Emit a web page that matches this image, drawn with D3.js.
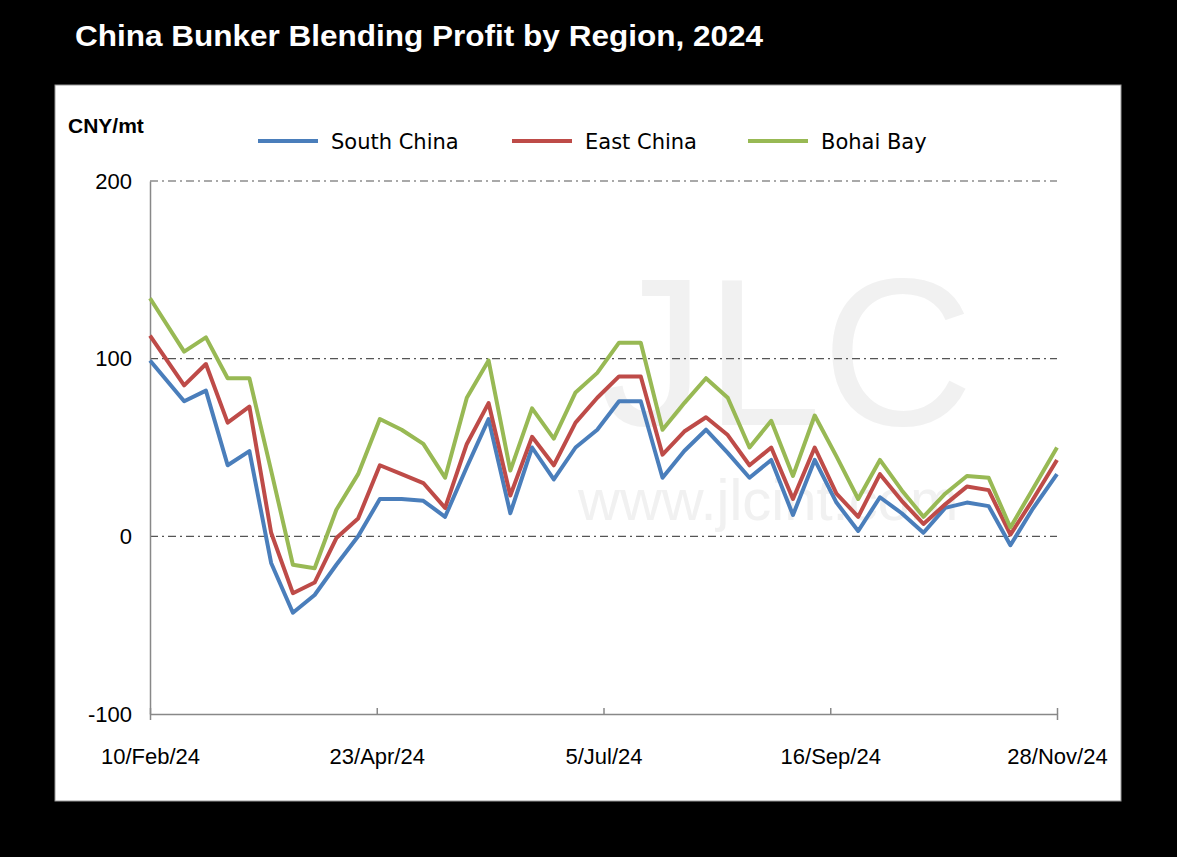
<!DOCTYPE html>
<html><head><meta charset="utf-8">
<script src="https://cdn.jsdelivr.net/npm/d3@7/dist/d3.min.js"></script>
<style>body{margin:0;background:#000;}</style></head>
<body><svg id="c" width="1177" height="857"></svg>
<script>
const dates = ["2024-02-10","2024-02-21","2024-02-28","2024-03-06","2024-03-13","2024-03-20","2024-03-27","2024-04-03","2024-04-10","2024-04-17","2024-04-24","2024-05-01","2024-05-08","2024-05-15","2024-05-22","2024-05-29","2024-06-05","2024-06-12","2024-06-19","2024-06-26","2024-07-03","2024-07-10","2024-07-17","2024-07-24","2024-07-31","2024-08-07","2024-08-14","2024-08-21","2024-08-28","2024-09-04","2024-09-11","2024-09-18","2024-09-25","2024-10-02","2024-10-09","2024-10-16","2024-10-23","2024-10-30","2024-11-06","2024-11-13","2024-11-20","2024-11-28"];
const southChina = [99,76,82,40,48,-15,-43,-33,-16,0,21,21,20,11,39,66,13,50,32,50,60,76,76,33,48,60,47,33,43,12,43,19,3,22,13,2,16,19,17,-5,15,35];
const eastChina = [113,85,97,64,73,2,-32,-26,-1,10,40,35,30,16,52,75,23,56,40,64,78,90,90,46,59,67,57,40,50,21,50,24,11,35,20,7,18,28,26,1,20,43];
const bohaiBay = [134,104,112,89,89,37,-16,-18,15,35,66,60,52,33,78,99,37,72,55,81,92,109,109,60,75,89,78,50,65,34,68,45,21,43,26,11,24,34,33,5,26,50];
const series = [
  {name:"South China", values:southChina, color:"#4a7ebb"},
  {name:"East China", values:eastChina, color:"#be4b48"},
  {name:"Bohai Bay", values:bohaiBay, color:"#98b954"}];
const yTicks = [-100,0,100,200];
const xTicks = ["2024-02-10","2024-04-23","2024-07-05","2024-09-16","2024-11-28"];
const xTickLabels = ["10/Feb/24","23/Apr/24","5/Jul/24","16/Sep/24","28/Nov/24"];

const svg = d3.select("#c");
const pd = d3.timeParse("%Y-%m-%d");
svg.append("rect").attr("x",55).attr("y",85).attr("width",1066).attr("height",716).attr("fill","#fff").attr("stroke","#999");
svg.append("text").attr("x",75).attr("y",46).attr("fill","#fff").attr("font-family","Liberation Sans, Arial").attr("font-weight","bold").attr("font-size",29).attr("textLength",688).attr("lengthAdjust","spacingAndGlyphs").text("China Bunker Blending Profit by Region, 2024");

const x = d3.scaleTime().domain([pd(dates[0]), pd(dates[dates.length-1])]).range([150,1057]);
const y = d3.scaleLinear().domain([-100,200]).range([714,181]);

// watermark
svg.append("text").attr("x",600).attr("y",425).attr("font-family","Liberation Sans, Arial").attr("font-size",210).attr("fill","#e8e8e8").attr("opacity",0.6).text("JLC");
svg.append("text").attr("x",578).attr("y",520).attr("font-family","Liberation Sans, Arial").attr("font-size",58).attr("fill","#e8e8e8").attr("opacity",0.6).text("www.jlcint.com");

// grid
svg.append("g").selectAll("line").data(yTicks.filter(d=>d!==-100)).join("line")
  .attr("x1",150).attr("x2",1057).attr("y1",d=>y(d)).attr("y2",d=>y(d))
  .attr("stroke","#555").attr("stroke-width",1.2).attr("stroke-dasharray","8,4,2,4");

const yAxis = svg.append("g").attr("transform","translate(150,0)")
  .call(d3.axisLeft(y).tickValues(yTicks).tickSize(0).tickPadding(18).tickFormat(d=>String(d)));
yAxis.select(".domain").attr("stroke","#888").attr("stroke-width",1.5);
yAxis.selectAll("text").attr("font-family","Liberation Sans Narrow, Liberation Sans, Arial").attr("font-size",22).attr("fill","#000");

const xAxis = svg.append("g").attr("transform","translate(0,714)")
  .call(d3.axisBottom(x).tickValues(xTicks.map(pd)).tickSize(6).tickPadding(28).tickFormat((d,i)=>xTickLabels[i]));
xAxis.selectAll("line").attr("stroke","#888").attr("stroke-width",1.5).attr("y1",-6).attr("y2",0);
xAxis.select(".domain").attr("stroke","#888").attr("stroke-width",1.5);
xAxis.selectAll("text").attr("font-family","Liberation Sans Narrow, Liberation Sans, Arial").attr("font-size",22).attr("fill","#000");

svg.append("text").attr("x",68).attr("y",133).attr("font-family","Liberation Sans, Arial").attr("font-weight","bold").attr("font-size",21).text("CNY/mt");

const line = d3.line().x((d,i)=>x(pd(dates[i]))).y(d=>y(d));
series.forEach(s=>{
  svg.append("path").attr("d",line(s.values)).attr("fill","none").attr("stroke",s.color).attr("stroke-width",4).attr("stroke-linejoin","round");
});

const lg = svg.append("g");
const lx = [258,512,748];
series.forEach((s,i)=>{
  lg.append("line").attr("x1",lx[i]).attr("x2",lx[i]+60).attr("y1",141).attr("y2",141).attr("stroke",s.color).attr("stroke-width",4);
  lg.append("text").attr("x",lx[i]+73).attr("y",149).attr("font-family","DejaVu Sans, Verdana").attr("font-size",21).text(s.name);
});
</script></body></html>
